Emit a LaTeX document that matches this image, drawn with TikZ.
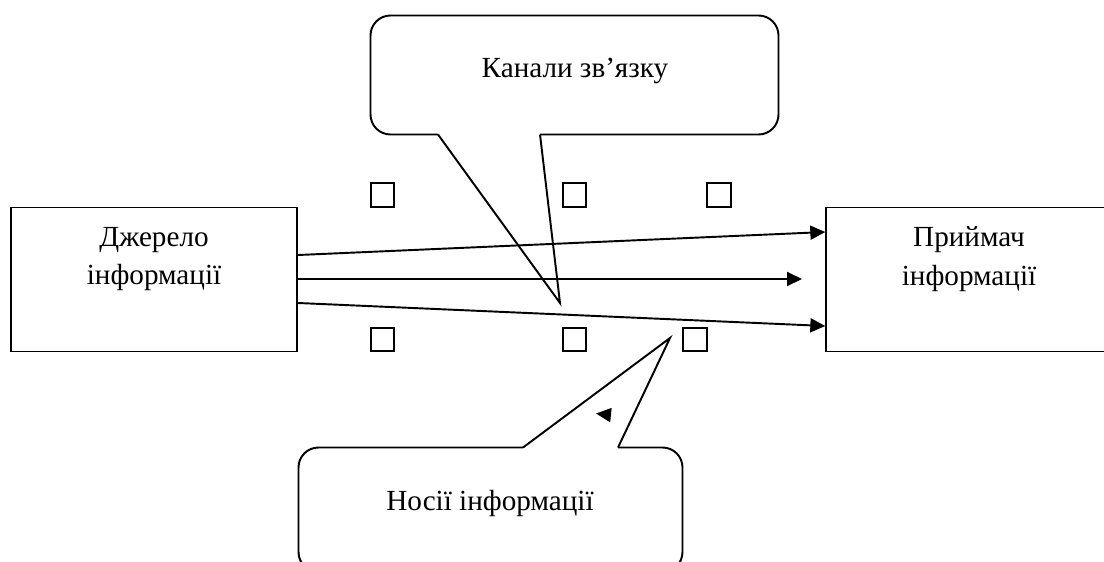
\documentclass[tikz,border=0pt]{standalone}
\usepackage{fontspec}
\setmainfont{Liberation Serif}
\usetikzlibrary{arrows.meta}
\tikzset{
  block/.style={
    rectangle,
    draw=black,
    line width=1.1pt,
    minimum width=5.73cm,
    minimum height=2.88cm,
    inner sep=0pt,
  },
  marker/.style={
    rectangle,
    draw=black,
    line width=1.1pt,
    minimum size=0.47cm,
    inner sep=0pt,
  },
  caption/.style={
    align=center,
    text=black,
    font=\fontsize{16.6}{22.1}\selectfont,
    inner sep=0pt,
  },
  flow/.style={
    -{Triangle[length=0.3cm,width=0.28cm]},
    draw=black,
    line width=1.1pt,
  },
  bubble/.style={
    draw=black,
    line width=1.1pt,
    rounded corners=0.4cm,
  },
  pointer/.style={
    draw=black,
    line width=1.1pt,
    line join=miter,
  },
}

\begin{document}
\begin{tikzpicture}[x=0.02cm,y=-0.02cm]
  \useasboundingbox (0,0) rectangle (1104,561);

  % Source and receiver of the information.
  \node[block] (source) at (154,279.5) {};
  \node[block] (sink) at (969.5,279.5) {};
  \node[caption] (sourcelabel) at (154,259) {Джерело\\інформації};
  \node[caption] (sinklabel) at (969,259) {Приймач\\інформації};

  % Small squares above and below the channel.
  \node[marker] (m1) at (382.5,195) {};
  \node[marker] (m2) at (574.5,195) {};
  \node[marker] (m3) at (719,195) {};
  \node[marker] (m4) at (382.5,339.5) {};
  \node[marker] (m5) at (574.5,339.5) {};
  \node[marker] (m6) at (695,339.5) {};

  % Signals sent along the channel.
  \coordinate (gap) at (802,279);
  \draw[flow] ([yshift=0.49cm]source.east) -- ([yshift=0.95cm]sink.west);
  \draw[flow] (source.east |- gap) -- (gap);
  \draw[flow] ([yshift=-0.47cm]source.east) -- ([yshift=-0.93cm]sink.west);

  % Callout for the channels.
  \coordinate (chantip) at (560,303);
  \draw[bubble] (438,134.5) -- (370.5,134.5) -- (370.5,15.5) -- (778.5,15.5)
    -- (778.5,134.5) -- (540,134.5);
  \draw[pointer] (438,134.5) -- (chantip) -- (540,134.5);
  \node[caption,anchor=base] (chanlabel) at (575,77) {Канали зв’язку};

  % Callout for the carriers.
  \coordinate (carriertip) at (670,338);
  \draw[bubble] (523,447.5) -- (298.5,447.5) -- (298.5,572) -- (682.5,572)
    -- (682.5,447.5) -- (618,447.5);
  \draw[pointer] (523,447.5) -- (carriertip) -- (618,447.5);
  \node[caption,anchor=base] (carrierlabel) at (490,510) {Носії інформації};

  % Loose arrow head.
  \coordinate (looseend) at (610,415);
  \coordinate (loosetip) at (596,413.5);
  \draw[flow] (looseend) -- (loosetip);
\end{tikzpicture}
\end{document}
